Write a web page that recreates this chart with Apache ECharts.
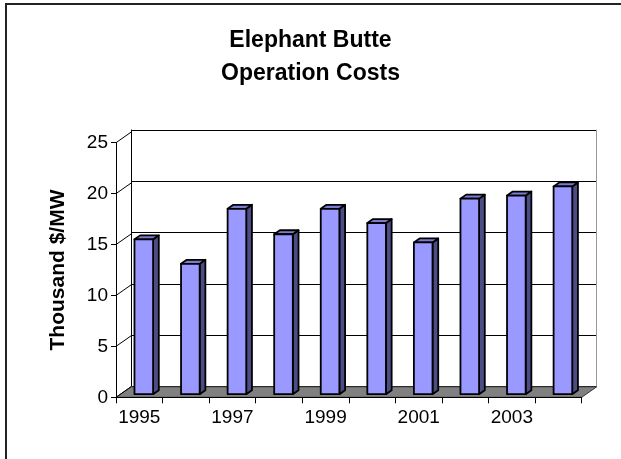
<!DOCTYPE html>
<html>
<head>
<meta charset="utf-8">
<script src="https://cdn.jsdelivr.net/npm/echarts@6/dist/echarts.min.js"></script>
<style>html,body{margin:0;padding:0;background:#fff}#c{width:621px;height:459px}</style>
</head>
<body>
<div id="c"></div>
<script>
var categories = ['1995','1996','1997','1998','1999','2000','2001','2002','2003','2004'];
var costs = [15.2, 12.8, 18.2, 15.7, 18.2, 16.8, 14.9, 19.2, 19.5, 20.4];
var yTicks = [0, 5, 10, 15, 20, 25];

var DX = 15, DY = -10.5;   // depth offset of back wall
var D0 = 0.3, D1 = 0.68;   // bar depth range
var BAR = 0.4;             // bar width as fraction of band
var FONT = 'Arial, "Liberation Sans", sans-serif';

var chart = echarts.init(document.getElementById('c'), null, {renderer: 'canvas'});

var option = {
  backgroundColor: '#fff',
  animation: false,
  title: {
    text: 'Elephant Butte\nOperation Costs',
    left: 'center', top: 19,
    textStyle: {fontFamily: FONT, fontSize: 23, fontWeight: 'bold', color: '#000', lineHeight: 33}
  },
  graphic: [{
    type: 'rect', shape: {x: 6, y: 4, width: 700, height: 600},
    style: {fill: 'none', stroke: '#222', lineWidth: 2}, z: 100
  }],
  grid: [
    {left: 116, right: 39.3, top: 142.7, bottom: 61.7},
    {left: 131.5, right: 24.3, top: 130, bottom: 72.3}
  ],
  xAxis: [
    {
      gridIndex: 0, type: 'category', data: categories, boundaryGap: true,
      axisLine: {show: true, lineStyle: {color: '#000', width: 1}},
      axisTick: {show: true, length: 6, interval: 0, lineStyle: {color: '#000'}},
      axisLabel: {interval: 1, margin: 11, fontFamily: FONT, fontSize: 19, color: '#000'},
      splitLine: {show: false}, z: 10
    },
    {
      gridIndex: 1, type: 'value', min: 0, max: 1, show: false
    }
  ],
  yAxis: [
    {
      gridIndex: 0, type: 'value', min: 0, max: 25, interval: 5,
      name: 'Thousand $/MW', nameLocation: 'middle', nameGap: 47, nameRotate: 90,
      nameTextStyle: {fontFamily: FONT, fontSize: 21, fontWeight: 'bold', color: '#000'},
      axisLine: {show: true, lineStyle: {color: '#000', width: 1}},
      axisTick: {show: true, length: 5, lineStyle: {color: '#000'}},
      axisLabel: {margin: 8, fontFamily: FONT, fontSize: 19, color: '#000'},
      splitLine: {show: false}, z: 10
    },
    {
      gridIndex: 1, type: 'value', min: 0, max: 25, interval: 5,
      axisLine: {show: true, lineStyle: {color: '#000', width: 1}},
      axisTick: {show: false}, axisLabel: {show: false},
      splitLine: {show: true, lineStyle: {color: '#000', width: 1}}
    },
    {
      gridIndex: 1, type: 'value', min: 0, max: 25, interval: 5, position: 'right',
      axisLine: {show: true, lineStyle: {color: '#999', width: 1}},
      axisTick: {show: false}, axisLabel: {show: false}, splitLine: {show: false}
    }
  ],
  series: [
    {
      // side wall lines + floor
      type: 'custom', xAxisIndex: 0, yAxisIndex: 0, z: 3, silent: true,
      data: yTicks.map(function (v) { return [0, v]; }),
      renderItem: function (params, api) {
        var bw = api.size([1, 0])[0];
        var p = api.coord([0, api.value(1)]);
        var x0 = p[0] - bw / 2;
        var children = [{
          type: 'line',
          shape: {x1: x0, y1: p[1], x2: x0 + DX, y2: p[1] + DY},
          style: {stroke: '#000', lineWidth: 1}
        }];
        if (params.dataIndex === 0) {
          var pr = api.coord([categories.length - 1, 0]);
          var x1 = pr[0] + bw / 2;
          children.unshift({
            type: 'polygon',
            shape: {points: [[x0, p[1]], [x1, p[1]], [x1 + DX, p[1] + DY], [x0 + DX, p[1] + DY]]},
            style: {fill: '#808080', stroke: '#333', lineWidth: 1}
          });
        }
        return {type: 'group', children: children};
      }
    },
    {
      type: 'custom', xAxisIndex: 0, yAxisIndex: 0, z: 5,
      data: costs.map(function (v, i) { return [i, v]; }),
      renderItem: function (params, api) {
        var bw = api.size([1, 0])[0];
        var w = bw * BAR;
        var pb = api.coord([api.value(0), 0]);
        var pt = api.coord([api.value(0), api.value(1)]);
        var xl = pb[0] - w / 2 + D0 * DX, xr = pb[0] + w / 2 + D0 * DX;
        var yb = pb[1] + D0 * DY, yt = pt[1] + D0 * DY;
        var ddx = (D1 - D0) * DX, ddy = (D1 - D0) * DY;
        var st = {stroke: '#000', lineWidth: 1.8, lineJoin: 'round'};
        return {
          type: 'group',
          children: [
            {type: 'polygon', shape: {points: [[xr, yt], [xr + ddx, yt + ddy], [xr + ddx, yb + ddy], [xr, yb]]},
             style: Object.assign({fill: '#4d4d85'}, st)},
            {type: 'polygon', shape: {points: [[xl, yt], [xl + ddx, yt + ddy], [xr + ddx, yt + ddy], [xr, yt]]},
             style: Object.assign({fill: '#7b7bd0'}, st)},
            {type: 'rect', shape: {x: xl, y: yt, width: w, height: yb - yt},
             style: Object.assign({fill: '#9999ff'}, st)}
          ]
        };
      }
    }
  ]
};
chart.setOption(option);
</script>
</body>
</html>
